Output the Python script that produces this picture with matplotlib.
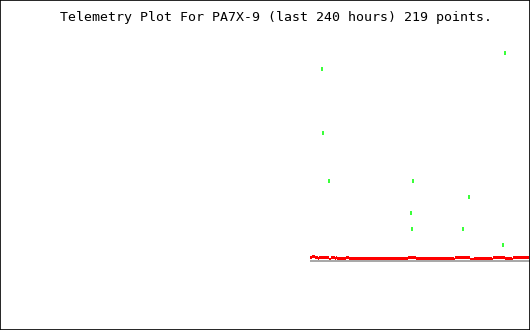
import numpy as np
import matplotlib
matplotlib.use("Agg")
import matplotlib.pyplot as plt

# --- data -----------------------------------------------------------
title = "Telemetry Plot For PA7X-9 (last 240 hours) 219 points."

# red series, read as runs of (level, length) from left to right
red_levels = [0.25, 0.3125, 0.25, 0.1875, 0.25, 0.125, 0.25, 0.1875, 0.25, 0.1875, 0.25,
              0.1875, 0.25, 0.1875, 0.125, 0.25, 0.125, 0.1875, 0.125, 0.25, 0.1875, 0.125, 0.25]
red_counts = [2, 3, 3, 1, 10, 2, 4, 1, 1, 9, 3,
              59, 8, 38, 1, 15, 4, 18, 1, 12, 7, 1, 16]

# green points: sample index and value
green_idx = [11, 12, 18, 100, 101, 102, 152, 158, 192, 194]
green_val = [12, 8, 5, 3, 2, 5, 2, 4, 1, 13]

# gray reference level
ref_level = 0.0

# --- plot -----------------------------------------------------------
red_val = np.repeat(red_levels, red_counts)
idx = np.arange(len(red_val))
band = 0.1875  # thickness of the red trace (3 px)

fig = plt.figure(figsize=(5.3, 3.3), dpi=100)
ax = fig.add_axes([0, 0, 1, 1])
ax.set_xlim(-310, 220)
ax.set_ylim(-4.3125, 16.3125)

ax.plot([0, 220], [ref_level, ref_level], color="#a9a9a9", lw=1.44,
        solid_capstyle="butt")
ax.bar(idx, band, bottom=red_val - band / 2, width=1.0, align="edge",
       color="#ff0000", linewidth=0)
ax.plot(np.array(green_idx) + 0.5, green_val, ls="none", marker="|",
        ms=2.2, mew=1.1, color="#00ff00", antialiased=False)

ax.text(-250, 15.2, title, family="DejaVu Sans Mono", fontsize=9.55,
        ha="left", va="center", color="black")

ax.set_xticks([])
ax.set_yticks([])
for s in ax.spines.values():
    s.set_linewidth(1.2)
    s.set_color("black")

fig.savefig("out.png", dpi=100)
